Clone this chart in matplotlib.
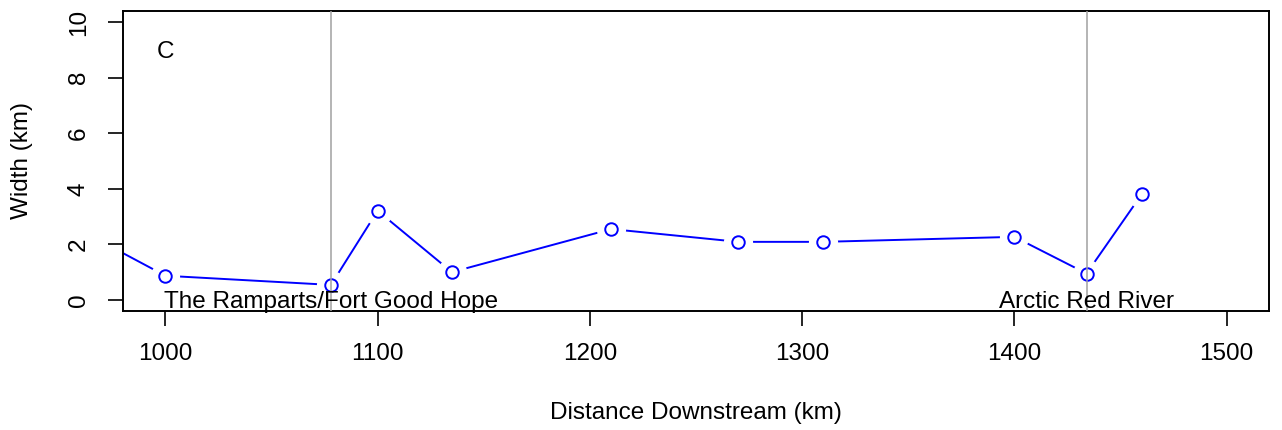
import numpy as np
import matplotlib.pyplot as plt

plt.rcParams['font.family'] = ['Liberation Sans', 'DejaVu Sans']

# Channel width along the river (panel C)
distance = [960, 1000, 1078, 1100, 1135, 1210, 1270, 1310, 1400, 1434, 1460]
width = [2.5, 0.87, 0.54, 3.21, 1.0, 2.55, 2.09, 2.09, 2.27, 0.95, 3.80]

# Landmarks
landmark_x = [1078, 1434]
landmark_names = ["The Ramparts/Fort Good Hope", "Arctic Red River"]

fs = 17.5

fig = plt.figure(figsize=(12.82, 4.30), dpi=100)
ax = fig.add_axes([0.0959, 0.2767, 0.894, 0.6977])

# R style type="b": line with gaps around the open circles
ax.plot(distance, width, '-', color='blue', lw=1.4, zorder=1)
ax.plot(distance, width, 'o', ms=20, mfc='white', mec='white', zorder=2)
ax.plot(distance, width, 'o', ms=9, mfc='white', mec='blue', mew=1.4, zorder=3)

for xv, name in zip(landmark_x, landmark_names):
    ax.axvline(xv, color='#A0A0A0', lw=1.1, zorder=4)
    ax.text(xv, 0, name, ha='center', va='center_baseline', fontsize=fs, zorder=5)

ax.text(1000, 9, "C", ha='center', va='center_baseline', fontsize=fs)

ax.set_xlim(980, 1520)
ax.set_ylim(-0.4, 10.4)
ax.set_xticks([1000, 1100, 1200, 1300, 1400, 1500])
ax.set_yticks([0, 2, 4, 6, 8, 10])
ax.tick_params(direction='out', length=10.8, width=1.2, labelsize=fs)
ax.tick_params(axis='x', pad=12)
ax.tick_params(axis='y', pad=13)
for lab in ax.get_yticklabels():
    lab.set_rotation(90)
    lab.set_va('center')
for sp in ax.spines.values():
    sp.set_linewidth(1.4)

ax.set_xlabel("Distance Downstream (km)", fontsize=fs, va='center')
ax.set_ylabel("Width (km)", fontsize=fs, va='center')
ax.xaxis.set_label_coords(0.543, 0.0395, transform=fig.transFigure)
ax.yaxis.set_label_coords(0.0172, 0.6256, transform=fig.transFigure)

fig.savefig("out.png", dpi=100)
